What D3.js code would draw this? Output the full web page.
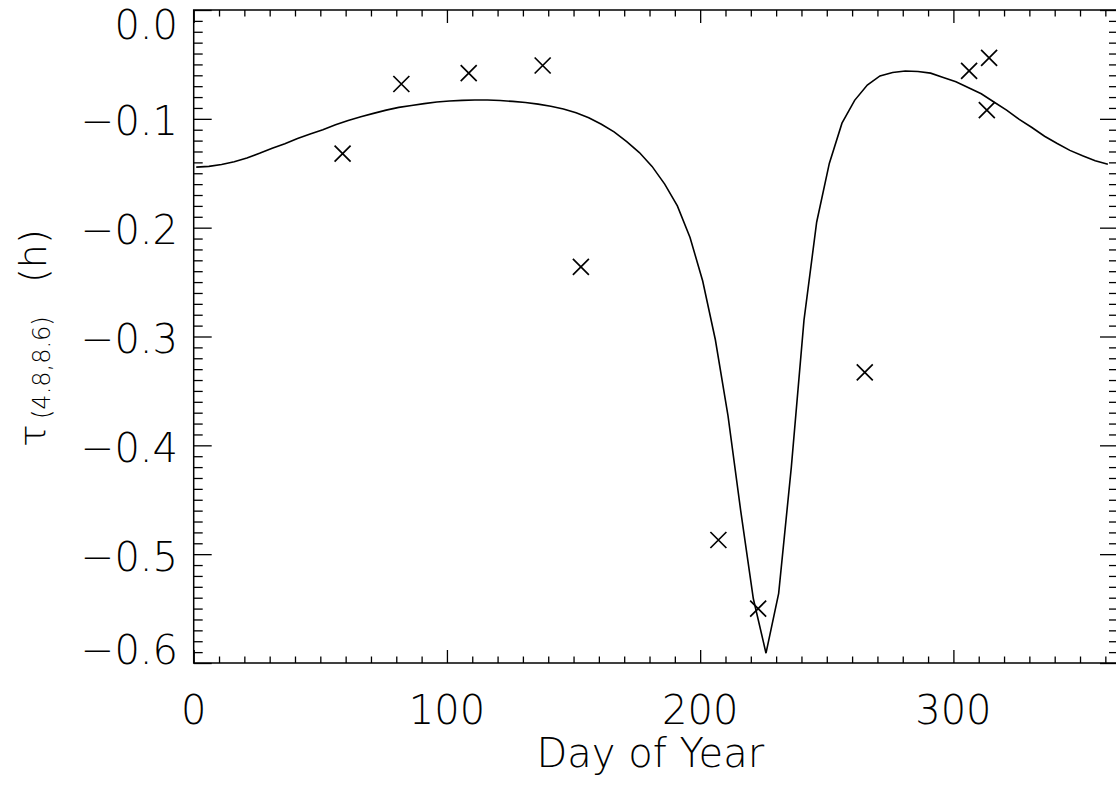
<!DOCTYPE html>
<html><head><meta charset="utf-8">
<script src="https://cdn.jsdelivr.net/npm/d3@7"></script>
<style>
body{margin:0;background:#fff;}
text{font-family:"DejaVu Sans",sans-serif;font-weight:200;fill:#000;}
</style></head>
<body><svg id="c" width="1116" height="791"></svg>
<script>
// Model curve: day of year (5-day grid) and tau values (h)
const curveDays = d3.range(1, 362, 5);
const curveTau = [
 -0.1444,-0.1437,-0.1420,-0.1395,-0.1360,-0.1317,-0.1270,-0.1228,-0.1180,-0.1140,
 -0.1100,-0.1055,-0.1015,-0.0980,-0.0950,-0.0920,-0.0895,-0.0877,-0.0860,-0.0845,
 -0.0836,-0.0830,-0.0827,-0.0827,-0.0832,-0.0840,-0.0850,-0.0865,-0.0885,-0.0910,
 -0.0945,-0.0990,-0.1050,-0.1120,-0.1210,-0.1310,-0.1437,-0.1600,-0.1800,-0.2090,
 -0.2490,-0.3030,-0.3730,-0.4600,-0.5410,-0.5910,-0.5360,-0.4200,-0.2850,-0.1950,
 -0.1410,-0.1040,-0.0830,-0.0690,-0.0606,-0.0575,-0.0561,-0.0565,-0.0580,-0.0620,
 -0.0660,-0.0715,-0.0770,-0.0845,-0.0920,-0.1005,-0.1080,-0.1160,-0.1227,-0.1290,
 -0.1340,-0.1385,-0.1418
];
// Observations (crosses)
const obsDays = [58.8, 82.0, 108.6, 137.8, 152.9, 207.2, 222.9, 265.0, 306.2, 314.1, 313.2];
const obsTau  = [-0.132, -0.068, -0.058, -0.051, -0.236, -0.487, -0.550, -0.333, -0.056, -0.044, -0.092];
// Axes
const xMajor = [0, 100, 200, 300];
const yMajor = [0.0, -0.1, -0.2, -0.3, -0.4, -0.5, -0.6];
const xTitle = "Day of Year";

const svg = d3.select("#c");
const L = 193.7, R = 1118, T = 10, B = 663;
const x = d3.scaleLinear().domain([0, 365]).range([L, R]);
const y = d3.scaleLinear().domain([-0.6, 0]).range([B, T]);

const g = svg.append("g");
// frame
g.append("rect").attr("x", L).attr("y", T).attr("width", R - L).attr("height", B - T)
  .attr("fill", "none").attr("stroke", "#000").attr("stroke-width", 1.5);

const xMinor = d3.range(0, 366, 10).filter(d => xMajor.indexOf(d) < 0);
const yMinor = d3.range(0, 61).map(i => -i / 100).filter(v => Math.abs(Math.round(v * 100) % 10) !== 0);

function tickAxis(axisFn, scale, vals, size, transform) {
  const a = axisFn(scale).tickValues(vals).tickSize(size).tickFormat("");
  const gg = g.append("g").attr("transform", transform).call(a);
  gg.select(".domain").remove();
  gg.selectAll("line").attr("stroke", "#000").attr("stroke-width", 1.3);
}
// bottom / top
tickAxis(d3.axisBottom, x, xMajor, -13, `translate(0,${B})`);
tickAxis(d3.axisBottom, x, xMinor, -6.5, `translate(0,${B})`);
tickAxis(d3.axisTop, x, xMajor, -13, `translate(0,${T})`);
tickAxis(d3.axisTop, x, xMinor, -6.5, `translate(0,${T})`);
// left / right
tickAxis(d3.axisLeft, y, yMajor, -18, `translate(${L},0)`);
tickAxis(d3.axisLeft, y, yMinor, -9, `translate(${L},0)`);
tickAxis(d3.axisRight, y, yMajor, -18, `translate(${R},0)`);
tickAxis(d3.axisRight, y, yMinor, -9, `translate(${R},0)`);

// tick labels
const fs = 40, cap = 0.729 * fs;
g.selectAll(".xl").data(xMajor).enter().append("text")
  .attr("x", d => x(d)).attr("y", 724).attr("text-anchor", "middle")
  .attr("font-size", fs).text(d => d3.format("d")(d));
g.selectAll(".yl").data(yMajor).enter().append("text")
  .attr("x", 178).attr("text-anchor", "end").attr("font-size", fs)
  .attr("y", d => {
    let c = y(d) + 2;
    c = Math.max(c, T + cap / 2);
    c = Math.min(c, B + 1 - cap / 2);
    return c + cap / 2;
  })
  .text(d => (d < 0 ? "\u2212" : "") + d3.format(".1f")(Math.abs(d)));

// axis titles
g.append("text").attr("x", (L + 1107) / 2).attr("y", 767).attr("text-anchor", "middle")
  .attr("font-size", fs).text(xTitle);
const yt = g.append("g").attr("transform", "translate(46,447) rotate(-90)");
yt.append("text").attr("x", 0).attr("y", 0).attr("font-size", 38).text("\u03c4");
yt.append("text").attr("x", 28).attr("y", 4).attr("font-size", 24).text("(4.8,8.6)");
yt.append("text").attr("x", 164).attr("y", 0).attr("font-size", 38).text("(h)");

// curve
const line = d3.line().x(d => x(d[0])).y(d => y(d[1]));
g.append("path").datum(curveDays.map((d, i) => [d, curveTau[i]]))
  .attr("d", line).attr("fill", "none").attr("stroke", "#000").attr("stroke-width", 1.6)
  .attr("stroke-linejoin", "miter");

// crosses
const s = 8;
const cx = g.selectAll(".cr").data(obsDays.map((d, i) => [d, obsTau[i]])).enter().append("path")
  .attr("d", d => {
    const px = x(d[0]), py = y(d[1]);
    return `M${px - s},${py - s}L${px + s},${py + s}M${px - s},${py + s}L${px + s},${py - s}`;
  })
  .attr("stroke", "#000").attr("stroke-width", 1.7).attr("fill", "none");
</script></body></html>
